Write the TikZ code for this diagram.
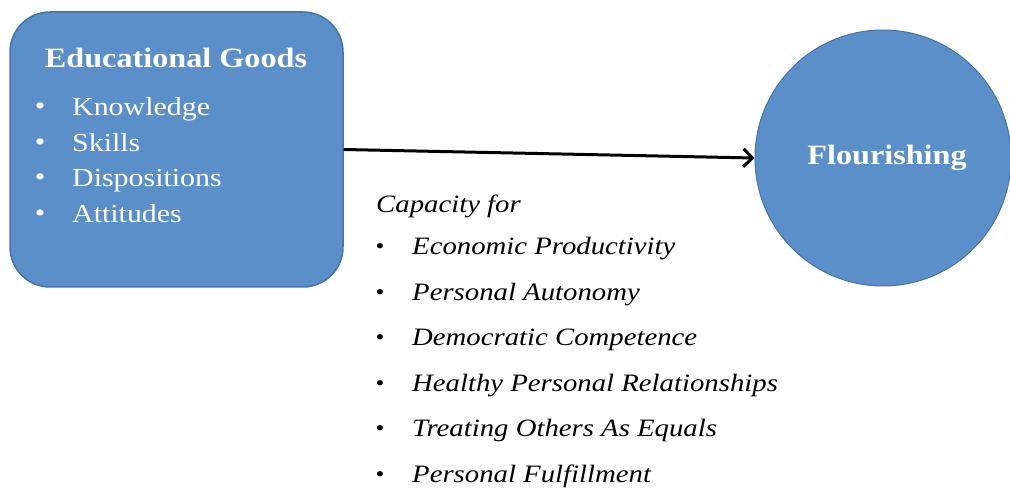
\documentclass[tikz,border=0pt]{standalone}
\usepackage{fontspec}
\setmainfont{Liberation Serif}[FakeStretch=1.15]
\usetikzlibrary{arrows.meta}
\definecolor{boxblue}{RGB}{91,143,201}
\definecolor{boxedge}{RGB}{70,115,168}
\tikzset{
  goodsbox/.style={draw=boxedge, line width=1.5pt, fill=boxblue, rounded corners=40pt, minimum width=333pt, minimum height=275pt, inner sep=0pt},
  flourcirc/.style={draw=boxedge, line width=1pt, fill=boxblue, circle, minimum size=256pt, inner sep=0pt},
  whitetitle/.style={text=white, font=\fontsize{28}{32}\selectfont\bfseries, inner sep=0pt},
  whiteitem/.style={text=white, font=\fontsize{26}{30}\selectfont, anchor=base west, inner sep=0pt},
  whitebullet/.style={text=white, font=\fontsize{26}{30}\selectfont, anchor=base, inner sep=0pt},
  capitem/.style={text=black, font=\fontsize{25}{30}\selectfont\itshape, anchor=base west, inner sep=0pt},
  capbullet/.style={text=black, font=\fontsize{22}{26}\selectfont, anchor=base, inner sep=0pt},
  mainarrow/.style={draw=black, line width=3pt, -{Straight Barb[length=9pt,width=18pt,line width=3pt]}}
}
\begin{document}
\begin{tikzpicture}[x=1pt,y=-1pt]
\useasboundingbox (0,0) rectangle (1010,489);
\node[goodsbox] (goods) at (176.5,149.5) {};
\node[flourcirc] (flour) at (883,158) {};
\node[whitetitle, anchor=base] (gtitle) at (176,68) {Educational Goods};
\node[whitebullet] (b1) at (40,115) {•};
\node[whiteitem] (t1) at (72,116) {Knowledge};
\node[whitebullet] (b2) at (40,150.5) {•};
\node[whiteitem] (t2) at (72,151.5) {Skills};
\node[whitebullet] (b3) at (40,186) {•};
\node[whiteitem] (t3) at (72,187) {Dispositions};
\node[whitebullet] (b4) at (40,221.5) {•};
\node[whiteitem] (t4) at (72,222.5) {Attitudes};
\node[whitetitle] (ftitle) at (887,158) {Flourishing};
\draw[mainarrow] (goods.east) -- (flour.west);
\node[capitem] (cap) at (376,213) {Capacity for};
\node[capbullet] (c1b) at (380,254) {•};
\node[capitem] (c1) at (412,255) {Economic Productivity};
\node[capbullet] (c2b) at (380,299.4) {•};
\node[capitem] (c2) at (412,300.4) {Personal Autonomy};
\node[capbullet] (c3b) at (380,344.8) {•};
\node[capitem] (c3) at (412,345.8) {Democratic Competence};
\node[capbullet] (c4b) at (380,390.2) {•};
\node[capitem] (c4) at (412,391.2) {Healthy Personal Relationships};
\node[capbullet] (c5b) at (380,435.6) {•};
\node[capitem] (c5) at (412,436.6) {Treating Others As Equals};
\node[capbullet] (c6b) at (380,481) {•};
\node[capitem] (c6) at (412,482) {Personal Fulfillment};
\end{tikzpicture}
\end{document}
